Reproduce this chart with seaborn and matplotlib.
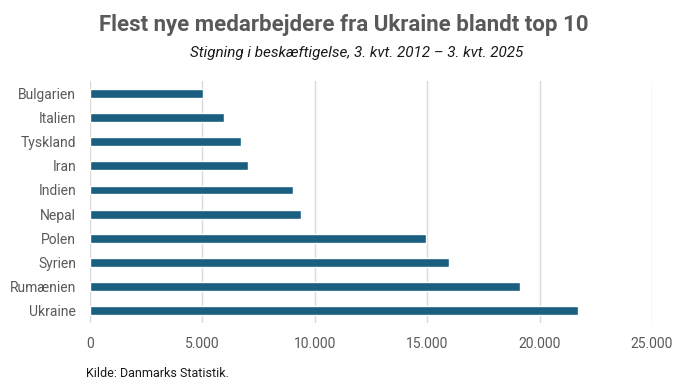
import numpy as np
import pandas as pd
import matplotlib
matplotlib.use("Agg")
import matplotlib.pyplot as plt
import seaborn as sns
from matplotlib.ticker import FuncFormatter

# data
lande = ["Bulgarien", "Italien", "Tyskland", "Iran", "Indien",
         "Nepal", "Polen", "Syrien", "Rumænien", "Ukraine"]
stigning = [5010, 5940, 6700, 7020, 9050, 9380, 14930, 15960, 19110, 21690]
x_ticks = [0, 5000, 10000, 15000, 20000, 25000]

df = pd.DataFrame({"Land": lande, "Stigning": stigning})

sns.set_style("white")
plt.rcParams['font.family'] = ['Roboto', 'DejaVu Sans']

grey = "#595959"
fig = plt.figure(figsize=(6.88, 3.92), dpi=100)
ax = fig.add_axes([0.1308, 0.176, 0.8169, 0.617])

sns.barplot(data=df, y="Land", x="Stigning", color="#1A5E80", width=0.37,
            saturation=1, ax=ax, zorder=3)

ax.set_xlim(0, 25000)
ax.set_ylim(9.5, -0.5)
ax.set_xticks(x_ticks)
ax.xaxis.set_major_formatter(FuncFormatter(lambda v, p: f"{int(v):,}".replace(",", ".")))
ax.grid(axis="x", color="#D9D9D9", linewidth=1, zorder=0)
ax.set_xlabel("")
ax.set_ylabel("")
for s in ax.spines.values():
    s.set_visible(False)
ax.tick_params(axis="both", length=0, labelsize=10, colors=grey)
ax.tick_params(axis="x", pad=10)
ax.tick_params(axis="y", pad=10)

fig.text(0.5, 0.937, "Flest nye medarbejdere fra Ukraine blandt top 10",
         ha="center", va="center", fontsize=16, fontweight="bold", color=grey)
fig.text(0.519, 0.865, "Stigning i beskæftigelse, 3. kvt. 2012 – 3. kvt. 2025",
         ha="center", va="center", fontsize=11, style="italic", color="#1a1a1a")
fig.text(0.125, 0.047, "Kilde: Danmarks Statistik.", ha="left", va="center",
         fontsize=9, color="#1a1a1a")

plt.savefig("out.png", dpi=100)
